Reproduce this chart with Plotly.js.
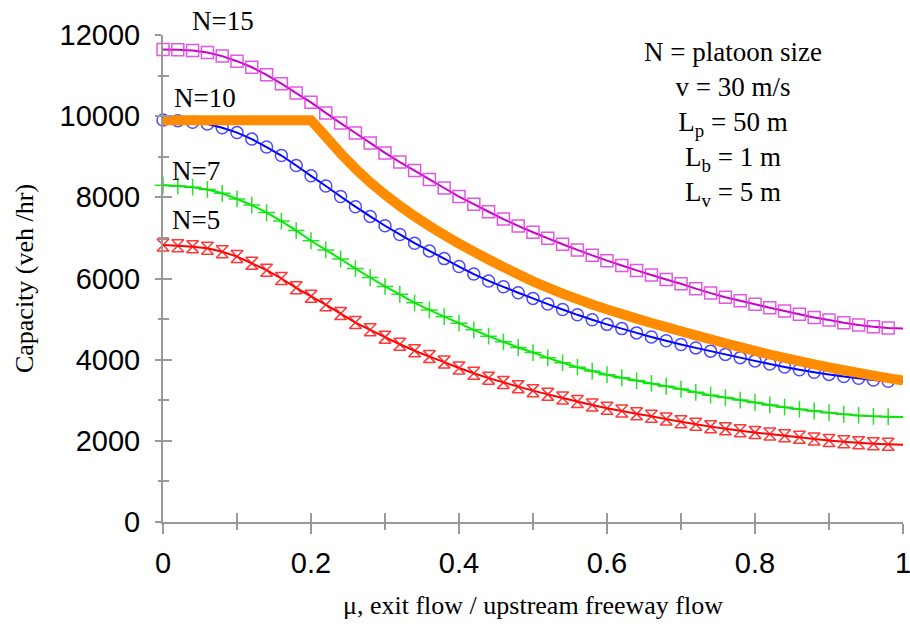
<!DOCTYPE html>
<html><head><meta charset="utf-8">
<script src="https://cdn.plot.ly/plotly-3.0.1.min.js"></script>
<style>html,body{margin:0;padding:0;background:#fff}#chart{width:910px;height:638px}</style>
</head><body><div id="chart"></div>
<script>
const mu = [0, 0.02, 0.04, 0.06, 0.08, 0.1, 0.12, 0.14, 0.16, 0.18, 0.2, 0.22, 0.24, 0.26, 0.28, 0.3, 0.32, 0.34, 0.36, 0.38, 0.4, 0.42, 0.44, 0.46, 0.48, 0.5, 0.52, 0.54, 0.56, 0.58, 0.6, 0.62, 0.64, 0.66, 0.68, 0.7, 0.72, 0.74, 0.76, 0.78, 0.8, 0.82, 0.84, 0.86, 0.88, 0.9, 0.92, 0.94, 0.96, 0.98, 1];
const capN15 = [11640, 11635, 11615, 11570, 11480, 11355, 11205, 11020, 10800, 10570, 10340, 10080, 9830, 9585, 9340, 9095, 8870, 8660, 8440, 8230, 8020, 7830, 7645, 7465, 7295, 7140, 6990, 6845, 6705, 6570, 6440, 6320, 6200, 6085, 5975, 5870, 5750, 5640, 5540, 5450, 5365, 5280, 5200, 5120, 5040, 4975, 4910, 4855, 4810, 4780, 4770];
const capN10 = [9905, 9890, 9850, 9805, 9715, 9595, 9435, 9240, 9030, 8785, 8530, 8280, 8020, 7770, 7530, 7300, 7085, 6870, 6680, 6490, 6295, 6110, 5940, 5795, 5650, 5510, 5370, 5235, 5105, 4985, 4870, 4765, 4660, 4560, 4465, 4375, 4290, 4210, 4130, 4050, 3970, 3893, 3820, 3753, 3692, 3637, 3585, 3540, 3500, 3470, 3450];
const capN7 = [8300, 8280, 8250, 8195, 8100, 7960, 7810, 7625, 7415, 7180, 6930, 6705, 6480, 6245, 6025, 5805, 5610, 5400, 5225, 5060, 4900, 4735, 4580, 4440, 4300, 4175, 4045, 3925, 3815, 3720, 3630, 3555, 3485, 3415, 3345, 3275, 3195, 3125, 3065, 3005, 2945, 2885, 2830, 2780, 2735, 2695, 2655, 2625, 2605, 2595, 2585];
const capN5 = [6825, 6805, 6785, 6745, 6660, 6540, 6375, 6205, 6000, 5770, 5560, 5355, 5135, 4915, 4735, 4555, 4380, 4220, 4075, 3940, 3795, 3665, 3545, 3440, 3335, 3237, 3145, 3055, 2967, 2883, 2803, 2735, 2665, 2605, 2535, 2472, 2410, 2350, 2295, 2250, 2208, 2168, 2127, 2087, 2047, 2008, 1978, 1952, 1930, 1915, 1905];
const capBound = [9900, 9900, 9900, 9900, 9900, 9900, 9900, 9900, 9900, 9900, 9900, 9495, 9083, 8709, 8370, 8070, 7790, 7534, 7296, 7074, 6860, 6660, 6468, 6284, 6104, 5930, 5775, 5629, 5491, 5361, 5239, 5123, 5012, 4905, 4801, 4700, 4600, 4502, 4405, 4309, 4215, 4127, 4043, 3962, 3884, 3810, 3740, 3673, 3608, 3545, 3485];
const xTicks = [0, 0.2, 0.4, 0.6, 0.8, 1];
const xTickText = ['0', '0.2', '0.4', '0.6', '0.8', '1'];
const seriesLabels = ['N=15', 'N=10', 'N=7', 'N=5'];
const xTitle = 'μ, exit flow / upstream freeway flow';
const yTitle = 'Capacity (veh /hr)';
const paramText = 'N = platoon size<br>v = 30 m/s<br>L<sub>p</sub> = 50 m<br>L<sub>b</sub> = 1 m<br>L<sub>v</sub> = 5 m';

const SERIF = 'Liberation Serif, Times New Roman, serif';
const SANS = 'Liberation Sans, Arial, sans-serif';
const AX = '#999999';
const nMarks = mu.length - 1;

const styles = [
  {y: capN15, line: '#cc00cc', mark: 'rgba(218,60,218,0.85)', symbol: 'square-open', size: 12},
  {y: capN10, line: '#0000ff', mark: 'rgba(30,30,255,0.8)', symbol: 'circle-open', size: 12},
  {y: capN7, line: '#00ee00', mark: 'rgba(20,220,20,0.9)', symbol: 'cross-thin-open', size: 12},
  {y: capN5, line: '#ff0000', mark: 'rgba(255,20,20,0.85)', symbol: 'hourglass-open', size: 12}
];
const traces = [];
styles.forEach((s, i) => {
  traces.push({x: mu, y: s.y, type: 'scatter', mode: 'lines', name: seriesLabels[i],
    line: {color: s.line, width: 2, simplify: false}, cliponaxis: false, showlegend: false});
  traces.push({x: mu.slice(0, nMarks), y: s.y.slice(0, nMarks), type: 'scatter', mode: 'markers',
    name: seriesLabels[i] + ' points', cliponaxis: false, showlegend: false,
    marker: {symbol: s.symbol, size: s.size, color: s.mark, line: {color: s.mark, width: 1.5}}});
});
traces.push({x: mu, y: capBound, xaxis: 'x2', yaxis: 'y2', type: 'scatter', mode: 'lines', name: 'bound',
  line: {color: '#ff8c00', width: 10, simplify: false}, cliponaxis: false, showlegend: false});

const labelPos = [[0.081, 1.028], [0.057, 0.87], [0.045, 0.72], [0.045, 0.62]];
const annotations = seriesLabels.map((t, i) => ({
  text: t, x: labelPos[i][0], y: labelPos[i][1], xref: 'paper', yref: 'paper', showarrow: false,
  xanchor: 'center', yanchor: 'middle', font: {family: SERIF, size: 27, color: '#000'}
}));
annotations.push({text: paramText, x: 0.77, y: 0.818, xref: 'paper', yref: 'paper', showarrow: false,
  xanchor: 'center', yanchor: 'middle', align: 'center', font: {family: SERIF, size: 27, color: '#000'}});

const layout = {
  width: 910, height: 638, autosize: false,
  margin: {l: 163, r: 7, t: 35, b: 116, pad: 0},
  paper_bgcolor: '#fff', plot_bgcolor: 'rgba(0,0,0,0)',
  showlegend: false,
  xaxis: {domain: [0, 1], anchor: 'y', range: [0, 1], autorange: false, showline: true, linecolor: AX, linewidth: 2,
    ticks: 'outside', ticklen: 10, tickwidth: 2, tickcolor: AX, tickmode: 'array', tickvals: xTicks, ticktext: xTickText,
    minor: {tickmode: 'linear', tick0: 0, dtick: 0.1, ticks: 'outside', ticklen: 6, tickwidth: 2, tickcolor: AX},
    showgrid: false, zeroline: false, ticklabelstandoff: 4, ticklabeloverflow: 'allow',
    tickfont: {family: SANS, size: 29, color: '#000'},
    title: {text: xTitle, font: {family: SERIF, size: 26, color: '#000'}, standoff: 18}},
  yaxis: {domain: [0, 1], anchor: 'x', range: [0, 12000], autorange: false, showline: true, linecolor: AX, linewidth: 2,
    ticks: 'outside', ticklen: 6, tickwidth: 2, tickcolor: AX, tick0: 0, dtick: 2000, tickformat: 'd',
    minor: {dtick: 1000, ticks: 'outside', ticklen: 3, tickwidth: 2, tickcolor: AX},
    showgrid: false, zeroline: false, ticklabelstandoff: 9, ticklabeloverflow: 'allow',
    tickfont: {family: SANS, size: 29, color: '#000'},
    title: {text: yTitle, font: {family: SERIF, size: 26, color: '#000'}, standoff: 18}},
  xaxis2: {domain: [0, 1], anchor: 'y2', range: [0, 1], autorange: false, showline: false,
    ticks: 'inside', ticklen: 9, tickwidth: 2, tickcolor: AX, tickmode: 'array', tickvals: xTicks,
    minor: {tickmode: 'linear', tick0: 0, dtick: 0.1, ticks: 'inside', ticklen: 9, tickwidth: 2, tickcolor: AX},
    showticklabels: false, showgrid: false, zeroline: false},
  yaxis2: {domain: [0, 1], anchor: 'x2', range: [0, 12000], autorange: false, showline: false,
    ticks: 'inside', ticklen: 9, tickwidth: 2, tickcolor: AX, tick0: 0, dtick: 2000,
    minor: {dtick: 1000, ticks: 'inside', ticklen: 6, tickwidth: 2, tickcolor: AX},
    showticklabels: false, showgrid: false, zeroline: false},
  annotations: annotations
};
Plotly.newPlot('chart', traces, layout, {displayModeBar: false, staticPlot: true});
</script>
</body></html>
